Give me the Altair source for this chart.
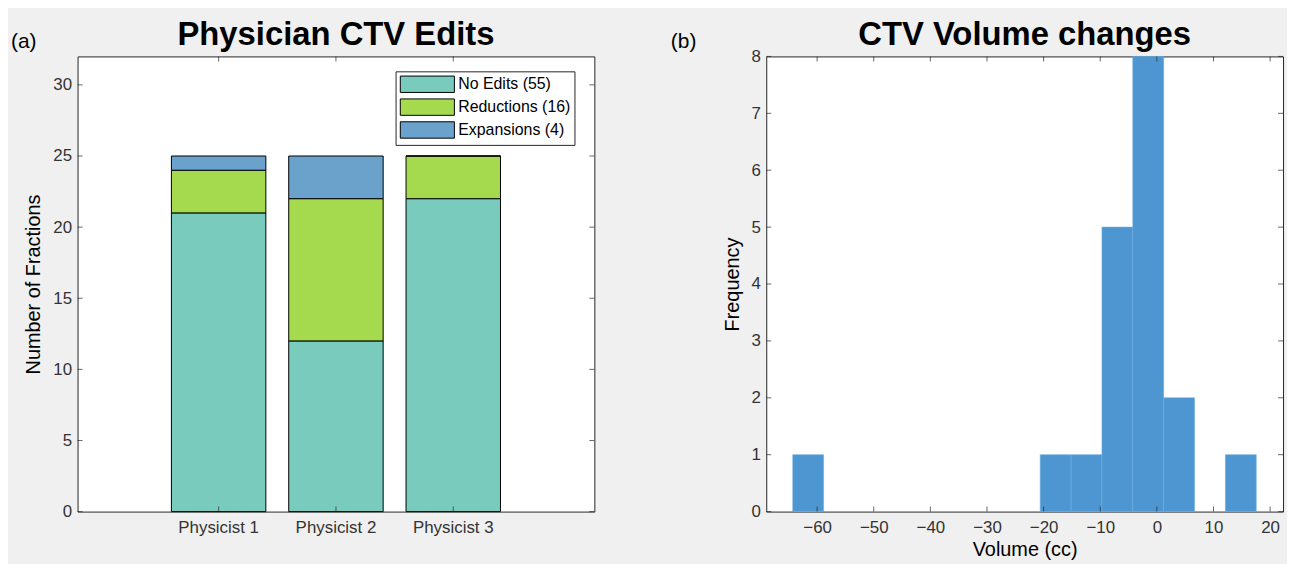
import altair as alt
import pandas as pd

# ---------------- data ----------------
physicians = ["Physicist 1", "Physicist 2", "Physicist 3"]
no_edits = [21, 12, 22]
reductions = [3, 10, 3]
expansions = [1, 3, 0]
edit_types = ["No Edits (55)", "Reductions (16)", "Expansions (4)"]
edit_colors = ["#78CBBD", "#A6DA4E", "#6AA2CC"]

left_yticks = [0, 5, 10, 15, 20, 25, 30]

bin_lo = [-64.3, -20.6, -15.15, -9.7, -4.25, 1.2, 12.1]
bin_hi = [-58.85, -15.15, -9.7, -4.25, 1.2, 6.65, 17.55]
bin_count = [1, 1, 1, 5, 8, 2, 1]
right_xticks = [-60, -50, -40, -30, -20, -10, 0, 10, 20]
right_yticks = [0, 1, 2, 3, 4, 5, 6, 7, 8]

titles = ["Physician CTV Edits", "CTV Volume changes"]
panel_tags = ["(a)", "(b)"]

# ---------------- style ----------------
FONT = "Liberation Sans"
W, H = 520, 458
AXC = "#262626"
LBL = "#333333"
TICK = 5
LFS = 17   # tick label font size
TFS = 20   # axis title font size

rows = []
for i, p in enumerate(physicians):
    for k, (t, v) in enumerate(zip(edit_types, [no_edits[i], reductions[i], expansions[i]])):
        rows.append({"physician": p, "type": t, "count": v, "ord": k})
df_bar = pd.DataFrame(rows)

xs = alt.Scale(domain=physicians, paddingInner=0.195, paddingOuter=0.8)
ys = alt.Scale(domain=[0, 32], nice=False, zero=True)


def title_text(txt, dx_tag, tag):
    t = alt.Chart(pd.DataFrame({"t": [txt]})).mark_text(
        font=FONT, fontSize=33, fontWeight="bold", align="center", baseline="alphabetic",
        color="black").encode(x=alt.value(W / 2), y=alt.value(-12), text="t:N")
    a = alt.Chart(pd.DataFrame({"t": [tag]})).mark_text(
        font=FONT, fontSize=21, align="left", baseline="alphabetic", color="black").encode(
        x=alt.value(dx_tag), y=alt.value(-8), text="t:N")
    return t, a


bars = alt.Chart(df_bar).mark_bar(stroke="black", strokeWidth=1).encode(
    x=alt.X("physician:N", scale=xs, sort=physicians,
            axis=alt.Axis(title=None, labelAngle=0, tickSize=0, labelPadding=8,
                          labelFontSize=LFS, labelColor=LBL, domain=False)),
    y=alt.Y("count:Q", stack="zero", scale=ys,
            axis=alt.Axis(title="Number of Fractions", values=left_yticks, tickSize=0,
                          labelPadding=6, labelFontSize=LFS, labelColor=LBL,
                          titleFontSize=TFS, titleFontWeight="normal", titleColor="black",
                          titlePadding=9, domain=False, grid=False)),
    color=alt.Color("type:N", scale=alt.Scale(domain=edit_types, range=edit_colors),
                    legend=alt.Legend(title=None, orient="none", legendX=320, legendY=15,
                                      fillColor="white", strokeColor=AXC, padding=4,
                                      symbolType="M-1,-1H5.6V1H-1Z", symbolSize=272,
                                      symbolStrokeColor="black", symbolStrokeWidth=1,
                                      symbolOpacity=1, labelFontSize=16, labelColor="black",
                                      labelOffset=41, rowPadding=1, labelFont=FONT)),
    order=alt.Order("ord:Q"),
)

df_lyt = pd.DataFrame({"v": left_yticks})
df_lxt = pd.DataFrame({"physician": physicians})
lt_left = alt.Chart(df_lyt).mark_tick(color=AXC, thickness=1, size=TICK, orient="horizontal").encode(
    y=alt.Y("v:Q", scale=ys), x=alt.value(TICK / 2))
lt_right = alt.Chart(df_lyt).mark_tick(color=AXC, thickness=1, size=TICK, orient="horizontal").encode(
    y=alt.Y("v:Q", scale=ys), x=alt.value(W - TICK / 2))
lt_bot = alt.Chart(df_lxt).mark_tick(color=AXC, thickness=1, size=TICK, orient="vertical").encode(
    x=alt.X("physician:N", scale=xs, sort=physicians), y=alt.value(H - TICK / 2))
lt_top = alt.Chart(df_lxt).mark_tick(color=AXC, thickness=1, size=TICK, orient="vertical").encode(
    x=alt.X("physician:N", scale=xs, sort=physicians), y=alt.value(TICK / 2))
ttl_a, lab_a = title_text(titles[0], -67, panel_tags[0])

left = alt.layer(bars, lt_left, lt_right, lt_bot, lt_top, ttl_a, lab_a).properties(width=W, height=H)

# ---------------- right panel ----------------
df_hist = pd.DataFrame({"lo": bin_lo, "hi": bin_hi, "n": bin_count})
rxs = alt.Scale(domain=[-68.1, 21.4], nice=False, zero=False)
rys = alt.Scale(domain=[0, 8], nice=False)

hist = alt.Chart(df_hist).mark_bar(color="#4D96D1", stroke="#6AAEE0", strokeWidth=0.6,
                                   orient="vertical").encode(
    x=alt.X("lo:Q", scale=rxs,
            axis=alt.Axis(title="Volume (cc)", values=right_xticks, tickSize=0, labelPadding=8,
                          labelFontSize=LFS, labelColor=LBL, titleFontSize=TFS,
                          titleFontWeight="normal", titleColor="black", titlePadding=4,
                          domain=False, grid=False, format="d")),
    x2="hi:Q",
    y=alt.Y("n:Q", scale=rys,
            axis=alt.Axis(title="Frequency", values=right_yticks, tickSize=0, labelPadding=6,
                          labelFontSize=LFS, labelColor=LBL, titleFontSize=TFS,
                          titleFontWeight="normal", titleColor="black", titlePadding=8,
                          domain=False, grid=False, format="d")),
    y2=alt.datum(0),
)

df_ryt = pd.DataFrame({"v": right_yticks})
df_rxt = pd.DataFrame({"v": right_xticks})
rt_left = alt.Chart(df_ryt).mark_tick(color=AXC, thickness=1, size=TICK, orient="horizontal").encode(
    y=alt.Y("v:Q", scale=rys), x=alt.value(TICK / 2))
rt_right = alt.Chart(df_ryt).mark_tick(color=AXC, thickness=1, size=TICK, orient="horizontal").encode(
    y=alt.Y("v:Q", scale=rys), x=alt.value(W - TICK / 2))
rt_bot = alt.Chart(df_rxt).mark_tick(color=AXC, thickness=1, size=TICK, orient="vertical").encode(
    x=alt.X("v:Q", scale=rxs), y=alt.value(H - TICK / 2))
rt_top = alt.Chart(df_rxt).mark_tick(color=AXC, thickness=1, size=TICK, orient="vertical").encode(
    x=alt.X("v:Q", scale=rxs), y=alt.value(TICK / 2))
ttl_b, lab_b = title_text(titles[1], -96, panel_tags[1])

right = alt.layer(hist, rt_left, rt_right, rt_bot, rt_top, ttl_b, lab_b).properties(width=W, height=H)

chart = alt.hconcat(left, right, spacing=75).resolve_scale(color="independent").properties(
    padding={"left": 2, "top": 8, "right": 3, "bottom": 2},
    background="#F0F0F0",
).configure_view(stroke=AXC, strokeWidth=1, fill="white").configure_axis(
    labelFont=FONT, titleFont=FONT
).configure_legend(labelFont=FONT)

chart.save("out.html", embed_options={"renderer": "svg", "actions": False})
